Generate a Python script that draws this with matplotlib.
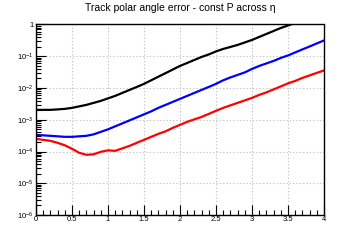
import numpy as np
import matplotlib
matplotlib.use("Agg")
import matplotlib.pyplot as plt
from matplotlib.ticker import FixedLocator, NullFormatter, FixedFormatter

plt.rcParams['font.family'] = ['Liberation Sans', 'DejaVu Sans']
plt.rcParams['mathtext.fontset'] = 'custom'
plt.rcParams['mathtext.rm'] = 'Liberation Sans'
plt.rcParams['mathtext.it'] = 'Liberation Sans'
plt.rcParams['mathtext.default'] = 'regular'

eta = [round(0.1 * i, 1) for i in range(41)]

black = [2.05e-3, 2.05e-3, 2.05e-3, 2.12e-3, 2.20e-3, 2.37e-3, 2.64e-3, 2.94e-3, 3.40e-3, 3.93e-3,
         4.71e-3, 5.65e-3, 7.02e-3, 8.71e-3, 1.08e-2, 1.35e-2, 1.75e-2, 2.27e-2, 2.94e-2, 3.82e-2,
         4.95e-2, 6.15e-2, 7.65e-2, 9.51e-2, 0.114, 0.142, 0.170, 0.196, 0.227, 0.272,
         0.326, 0.405, 0.503, 0.625, 0.776, 0.93, 1.11]

blue = [3.35e-4, 3.23e-4, 3.12e-4, 3.01e-4, 2.90e-4, 2.90e-4, 3.01e-4, 3.12e-4, 3.47e-4, 4.16e-4,
        4.99e-4, 6.20e-4, 7.70e-4, 9.57e-4, 1.19e-3, 1.48e-3, 1.84e-3, 2.37e-3, 2.94e-3, 3.66e-3,
        4.54e-3, 5.65e-3, 7.02e-3, 8.71e-3, 1.08e-2, 1.35e-2, 1.75e-2, 2.15e-2, 2.58e-2, 3.10e-2,
        3.99e-2, 4.95e-2, 5.94e-2, 7.12e-2, 8.85e-2, 0.106, 0.132, 0.164, 0.203, 0.253, 0.314]

red = [2.51e-4, 2.33e-4, 2.17e-4, 1.88e-4, 1.57e-4, 1.22e-4, 9.10e-5, 7.87e-5, 8.17e-5, 9.79e-5,
       1.09e-4, 1.05e-4, 1.26e-4, 1.51e-4, 1.88e-4, 2.33e-4, 2.90e-4, 3.60e-4, 4.32e-4, 5.56e-4,
       6.91e-4, 8.59e-4, 1.03e-3, 1.23e-3, 1.53e-3, 1.91e-3, 2.37e-3, 2.84e-3, 3.40e-3, 4.07e-3,
       4.88e-3, 6.07e-3, 7.28e-3, 9.04e-3, 1.12e-2, 1.40e-2, 1.67e-2, 2.08e-2, 2.49e-2, 2.99e-2,
       3.57e-2]

title = "Track polar angle error - const P across \u03b7"
x_ticks = [0, 0.5, 1, 1.5, 2, 2.5, 3, 3.5, 4]
x_labels = ["0", "0.5", "1", "1.5", "2", "2.5", "3", "3.5", "4"]
y_ticks = [1e-6, 1e-5, 1e-4, 1e-3, 1e-2, 1e-1, 1]
y_labels = ["$10^{-6}$", "$10^{-5}$", "$10^{-4}$", "$10^{-3}$", "$10^{-2}$", "$10^{-1}$", "1"]

fig = plt.figure(figsize=(3.6, 2.4), dpi=100)
ax = fig.add_axes([0.1, 0.104, 0.8, 0.794])

ax.plot(eta[:len(black)], black, color='black', lw=1.6)
ax.plot(eta, blue, color='#0000ff', lw=1.6)
ax.plot(eta, red, color='#ff0000', lw=1.6)

ax.set_yscale('log')
ax.set_xlim(0, 4)
ax.set_ylim(1e-6, 1)

ax.xaxis.set_major_locator(FixedLocator(x_ticks))
ax.xaxis.set_major_formatter(FixedFormatter(x_labels))
ax.xaxis.set_minor_locator(FixedLocator([0.1 * i for i in range(41)]))
ax.yaxis.set_major_locator(FixedLocator(y_ticks))
ax.yaxis.set_major_formatter(FixedFormatter(y_labels))
minors = [m * 10.0 ** e for e in range(-6, 0) for m in range(2, 10)]
ax.yaxis.set_minor_locator(FixedLocator(minors))
ax.yaxis.set_minor_formatter(NullFormatter())

ax.tick_params(which='both', direction='in', top=False, right=False, labelsize=5.5, width=0.8)
ax.tick_params(which='major', length=7)
ax.tick_params(which='minor', length=3.5)
ax.tick_params(axis='x', pad=1)
ax.tick_params(axis='y', pad=2)

ax.grid(True, which='major', color='#bbbbbb', linestyle=(0, (1, 2)), linewidth=0.8)

for s in ['left', 'bottom']:
    ax.spines[s].set_linewidth(1.0)
for s in ['top', 'right']:
    ax.spines[s].set_linestyle((0, (2, 1)))
    ax.spines[s].set_linewidth(1.0)

fig.text(0.5, 0.965, title, ha='center', va='center', fontsize=7.5)

fig.savefig('out.png', dpi=100)
